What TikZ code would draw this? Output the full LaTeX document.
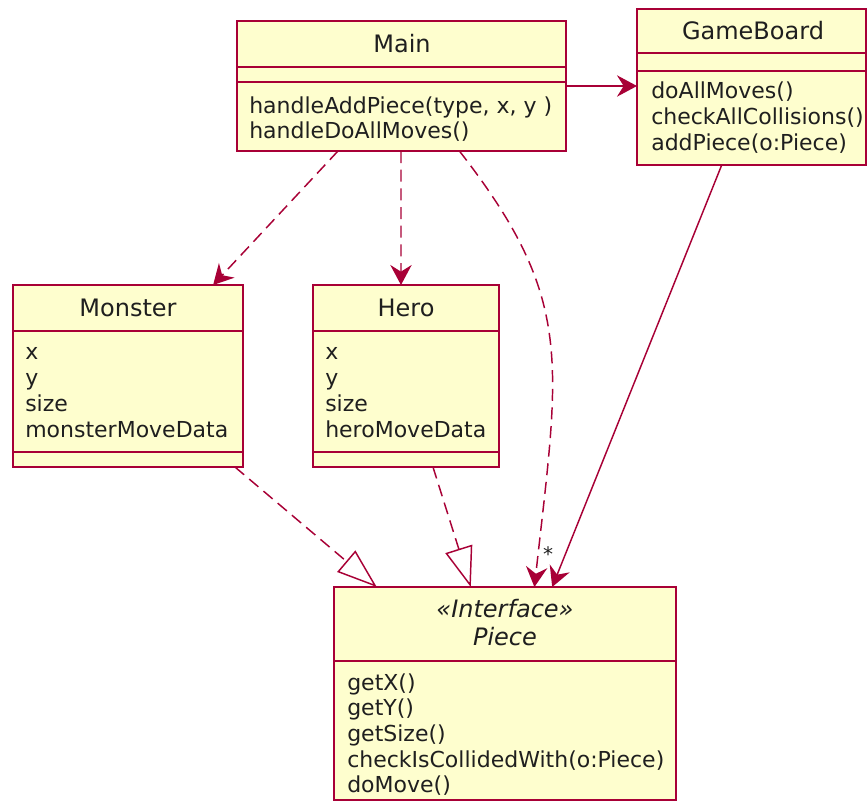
\documentclass[tikz,border=0pt]{standalone}
\usepackage{fontspec}
\setmainfont{DejaVu Sans}
\usetikzlibrary{fit,calc,arrows.meta}
\definecolor{umlred}{HTML}{A80036}
\definecolor{umlfill}{HTML}{FEFECE}
\begin{document}
\begin{tikzpicture}[x=0.75pt,y=-0.75pt,
  box/.style={draw=umlred, fill=umlfill, line width=1.5pt, inner sep=0pt, outer sep=0pt},
  sepline/.style={draw=umlred, line width=1.5pt},
  ttl/.style={font=\fontsize{18}{20}\selectfont, anchor=base, inner sep=0pt, text=black!88},
  mem/.style={font=\fontsize{16.5}{19}\selectfont, anchor=base west, inner sep=0pt, text=black!88},
  deparrow/.style={draw=umlred, line width=1.1pt, dash pattern=on 9pt off 5pt,
    -{Stealth[length=15pt,width=16pt,inset=5pt]}},
  assoc/.style={draw=umlred, line width=1.1pt, -{Stealth[length=15pt,width=16pt,inset=5pt]}},
  realize/.style={draw=umlred, line width=1.1pt, dash pattern=on 9pt off 5pt,
    -{Triangle[open,length=30pt,width=21pt,line width=1.1pt]}}
]
\useasboundingbox (0,0) rectangle (868,803);
\fill[white] (0,0) rectangle (868,803);

% Main
\node[box, fit={(237,21)(566,151)}] (main) {};
\draw[sepline] ($(main.north west)+(0,46)$) -- ($(main.north east)+(0,46)$);
\draw[sepline] ($(main.north west)+(0,61)$) -- ($(main.north east)+(0,61)$);
\node[ttl] (mainT) at (402,52) {Main};
\node[mem] (mainM1) at (249,113) {handleAddPiece(type, x, y )};
\node[mem] (mainM2) at (249,138) {handleDoAllMoves()};

% GameBoard
\node[box, fit={(637,9)(866,165)}] (gameboard) {};
\draw[sepline] ($(gameboard.north west)+(0,44)$) -- ($(gameboard.north east)+(0,44)$);
\draw[sepline] ($(gameboard.north west)+(0,62)$) -- ($(gameboard.north east)+(0,62)$);
\node[ttl] (gbT) at (753,40) {GameBoard};
\node[mem] (gbM1) at (651,98) {doAllMoves()};
\node[mem] (gbM2) at (651,124) {checkAllCollisions()};
\node[mem] (gbM3) at (651,150) {addPiece(o:Piece)};

% Monster
\node[box, fit={(13,285)(243,467)}] (monster) {};
\draw[sepline] ($(monster.north west)+(0,46)$) -- ($(monster.north east)+(0,46)$);
\draw[sepline] ($(monster.north west)+(0,167)$) -- ($(monster.north east)+(0,167)$);
\node[ttl] (monT) at (128,316) {Monster};
\node[mem] (monA1) at (25,359) {x};
\node[mem] (monA2) at (25,385) {y};
\node[mem] (monA3) at (25,411) {size};
\node[mem] (monA4) at (25,437) {monsterMoveData};

% Hero
\node[box, fit={(313,285)(499,467)}] (hero) {};
\draw[sepline] ($(hero.north west)+(0,46)$) -- ($(hero.north east)+(0,46)$);
\draw[sepline] ($(hero.north west)+(0,167)$) -- ($(hero.north east)+(0,167)$);
\node[ttl] (heroT) at (406,316) {Hero};
\node[mem] (heroA1) at (325,359) {x};
\node[mem] (heroA2) at (325,385) {y};
\node[mem] (heroA3) at (325,411) {size};
\node[mem] (heroA4) at (325,437) {heroMoveData};

% Piece
\node[box, fit={(334,587)(676,800)}] (piece) {};
\draw[sepline] ($(piece.north west)+(0,74)$) -- ($(piece.north east)+(0,74)$);
\node[ttl] (pieceS) at (505,617) {\itshape «Interface»};
\node[ttl] (pieceT) at (505,645) {\itshape Piece};
\node[mem] (pieceM1) at (347,690) {getX()};
\node[mem] (pieceM2) at (347,715) {getY()};
\node[mem] (pieceM3) at (347,741) {getSize()};
\node[mem] (pieceM4) at (347,767) {checkIsCollidedWith(o:Piece)};
\node[mem] (pieceM5) at (347,792) {doMove()};

% connectors
\coordinate (mainE) at ($(main.north east)!0.5!(main.south east)$);
\draw[assoc] (mainE) -- (mainE -| gameboard.west);
\draw[deparrow] ($(main.south west)!0.307!(main.south east)$) -- ($(monster.north west)!0.87!(monster.north east)$);
\draw[deparrow] ($(main.south west)!0.4985!(main.south east)$) -- ($(hero.north west)!0.473!(hero.north east)$);
\draw[deparrow] ($(main.south west)!0.676!(main.south east)$) .. controls +(116,149) and +(25,-226) .. ($(piece.north west)!0.586!(piece.north east)$);
\draw[assoc] ($(gameboard.south west)!0.37!(gameboard.south east)$) -- ($(piece.north west)!0.638!(piece.north east)$);
\draw[realize] ($(monster.south west)!0.965!(monster.south east)$) -- ($(piece.north west)!0.125!(piece.north east)$);
\draw[realize] ($(hero.south west)!0.645!(hero.south east)$) -- ($(piece.north west)!0.40!(piece.north east)$);
\node[font=\fontsize{15}{16}\selectfont, inner sep=0pt, text=black!88] (mult) at (548,554) {*};
\end{tikzpicture}
\end{document}
